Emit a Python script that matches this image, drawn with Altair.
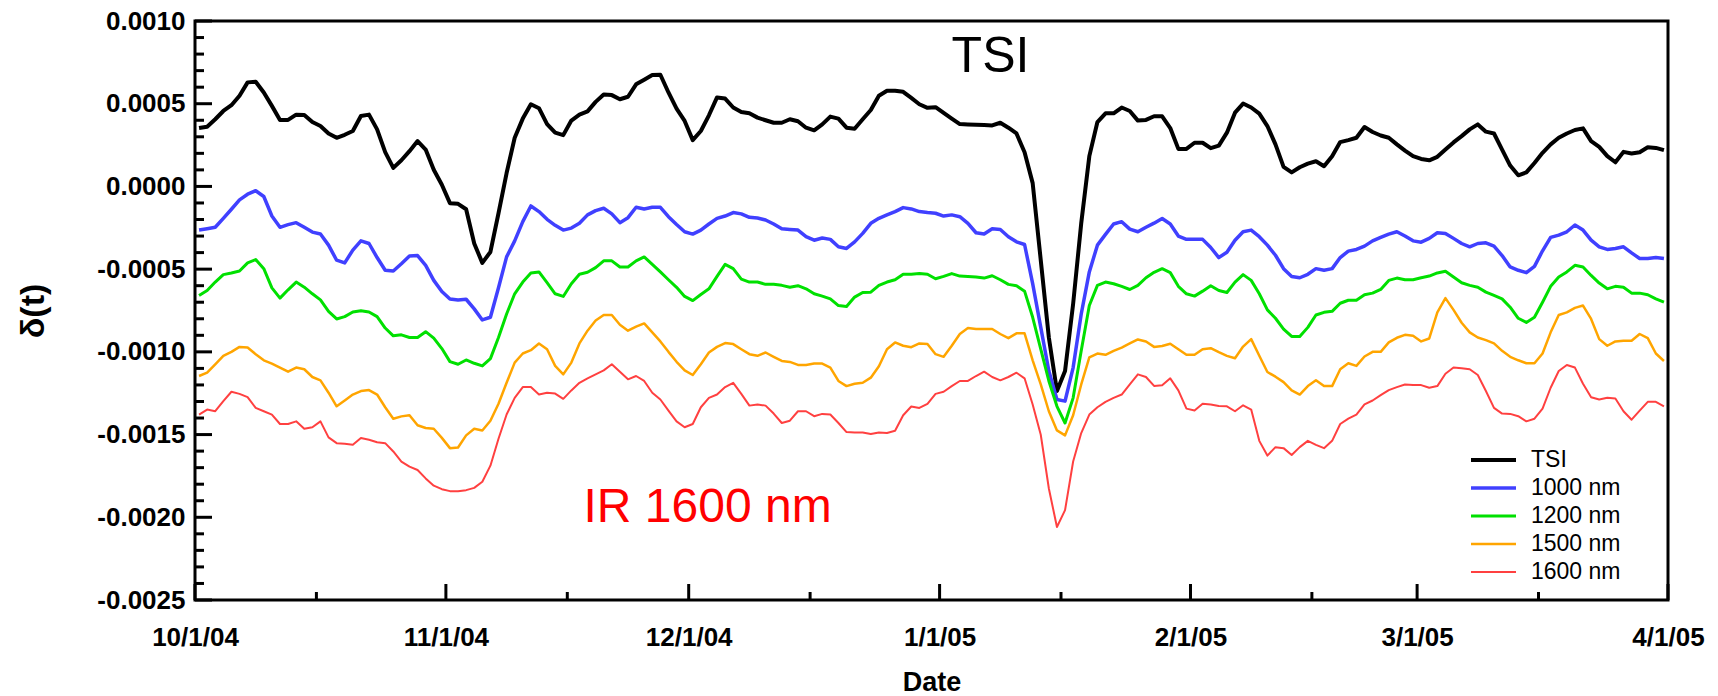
import altair as alt
import pandas as pd

# ---- series values, in units of 1e-4 (daily, Oct 1 2004 .. Mar 31 2005) ----
tsi = [
    3.53, 3.61, 4.06, 4.56, 4.91, 5.48, 6.29, 6.33, 5.68, 4.87,
    4.02, 4.02, 4.34, 4.32, 3.89, 3.65, 3.20, 2.94, 3.12, 3.35,
    4.26, 4.34, 3.45, 2.07, 1.12, 1.58, 2.13, 2.74, 2.23, 1.01,
    0.10, -1.01, -1.05, -1.38, -3.45, -4.62, -3.96, -1.62, 0.81, 2.94,
    4.10, 4.97, 4.73, 3.77, 3.25, 3.10, 3.98, 4.34, 4.54, 5.11,
    5.56, 5.52, 5.27, 5.42, 6.17, 6.45, 6.73, 6.75, 5.68, 4.70,
    3.96, 2.80, 3.35, 4.30, 5.38, 5.31, 4.77, 4.50, 4.42, 4.16,
    4.00, 3.85, 3.85, 4.06, 3.94, 3.55, 3.39, 3.75, 4.22, 4.10,
    3.55, 3.49, 4.06, 4.62, 5.48, 5.78, 5.78, 5.72, 5.35, 4.97,
    4.75, 4.79, 4.44, 4.10, 3.77, 3.75, 3.73, 3.71, 3.69, 3.85,
    3.55, 3.20, 2.07, 0.20, -4.46, -9.13, -12.37, -11.16, -7.10, -2.23,
    1.83, 3.89, 4.42, 4.42, 4.77, 4.56, 3.98, 4.02, 4.24, 4.24,
    3.53, 2.27, 2.27, 2.64, 2.64, 2.31, 2.47, 3.25, 4.46, 5.01,
    4.77, 4.40, 3.65, 2.54, 1.18, 0.85, 1.16, 1.38, 1.52, 1.22,
    1.83, 2.68, 2.80, 2.94, 3.59, 3.29, 3.08, 2.94, 2.54, 2.17,
    1.83, 1.66, 1.58, 1.79, 2.23, 2.66, 3.04, 3.45, 3.75, 3.31,
    3.20, 2.23, 1.26, 0.67, 0.85, 1.42, 2.03, 2.54, 2.94, 3.20,
    3.41, 3.51, 2.74, 2.39, 1.83, 1.46, 2.09, 1.99, 2.07, 2.37,
    2.33, 2.19,
]
nm1000 = [
    -2.64, -2.56, -2.47, -1.93, -1.38, -0.81, -0.47, -0.26, -0.61, -1.79,
    -2.47, -2.31, -2.19, -2.47, -2.76, -2.88, -3.55, -4.46, -4.62, -3.85,
    -3.29, -3.45, -4.30, -5.07, -5.11, -4.67, -4.20, -4.18, -4.77, -5.68,
    -6.35, -6.80, -6.86, -6.82, -7.40, -8.07, -7.91, -6.13, -4.26, -3.29,
    -2.13, -1.18, -1.52, -1.99, -2.35, -2.64, -2.52, -2.23, -1.72, -1.46,
    -1.32, -1.66, -2.19, -1.89, -1.26, -1.36, -1.26, -1.26, -1.83, -2.30,
    -2.74, -2.88, -2.64, -2.27, -1.93, -1.79, -1.58, -1.66, -1.87, -1.91,
    -2.03, -2.27, -2.56, -2.60, -2.64, -3.04, -3.25, -3.12, -3.20, -3.65,
    -3.75, -3.35, -2.84, -2.23, -1.93, -1.72, -1.52, -1.28, -1.36, -1.52,
    -1.58, -1.62, -1.79, -1.72, -1.83, -2.23, -2.80, -2.88, -2.56, -2.60,
    -3.04, -3.35, -3.51, -5.88, -8.52, -11.16, -12.88, -12.98, -10.95, -7.71,
    -5.17, -3.55, -2.90, -2.27, -2.13, -2.58, -2.74, -2.47, -2.22, -1.94,
    -2.27, -3.00, -3.20, -3.20, -3.20, -3.69, -4.30, -3.98, -3.25, -2.74,
    -2.64, -3.04, -3.55, -4.16, -4.97, -5.44, -5.52, -5.31, -4.97, -5.07,
    -4.97, -4.30, -3.91, -3.81, -3.61, -3.29, -3.08, -2.88, -2.74, -3.00,
    -3.29, -3.37, -3.14, -2.80, -2.84, -3.14, -3.45, -3.65, -3.45, -3.41,
    -3.61, -4.18, -4.87, -5.07, -5.21, -4.83, -3.89, -3.08, -2.94, -2.74,
    -2.33, -2.64, -3.25, -3.65, -3.81, -3.75, -3.65, -4.02, -4.36, -4.36,
    -4.30, -4.36,
]
nm1200 = [
    -6.59, -6.29, -5.78, -5.33, -5.23, -5.11, -4.62, -4.42, -4.97, -6.13,
    -6.75, -6.25, -5.78, -6.09, -6.49, -6.86, -7.55, -8.01, -7.87, -7.59,
    -7.51, -7.59, -7.87, -8.56, -9.03, -8.97, -9.13, -9.13, -8.78, -9.17,
    -9.80, -10.59, -10.75, -10.49, -10.69, -10.85, -10.41, -9.13, -7.71, -6.49,
    -5.78, -5.23, -5.17, -5.82, -6.49, -6.65, -5.88, -5.31, -5.19, -4.91,
    -4.50, -4.50, -4.87, -4.87, -4.50, -4.26, -4.71, -5.17, -5.64, -6.10,
    -6.65, -6.90, -6.53, -6.19, -5.44, -4.71, -4.97, -5.60, -5.78, -5.78,
    -5.92, -5.92, -5.98, -6.09, -6.00, -6.19, -6.49, -6.63, -6.80, -7.20,
    -7.26, -6.69, -6.41, -6.39, -5.98, -5.78, -5.64, -5.31, -5.31, -5.27,
    -5.31, -5.58, -5.44, -5.27, -5.42, -5.44, -5.48, -5.54, -5.40, -5.64,
    -5.92, -6.00, -6.33, -7.91, -9.84, -11.76, -13.29, -14.30, -12.78, -9.94,
    -7.20, -5.98, -5.78, -5.88, -6.04, -6.23, -5.98, -5.52, -5.19, -4.97,
    -5.21, -6.04, -6.49, -6.63, -6.33, -6.00, -6.29, -6.41, -5.78, -5.33,
    -5.68, -6.49, -7.46, -7.97, -8.62, -9.07, -9.07, -8.52, -7.77, -7.61,
    -7.55, -7.06, -6.88, -6.88, -6.55, -6.45, -6.23, -5.68, -5.54, -5.64,
    -5.64, -5.52, -5.42, -5.23, -5.13, -5.48, -5.82, -5.98, -6.09, -6.39,
    -6.59, -6.80, -7.30, -7.97, -8.22, -7.91, -7.00, -6.04, -5.48, -5.17,
    -4.77, -4.87, -5.38, -5.84, -6.19, -6.04, -6.09, -6.45, -6.45, -6.55,
    -6.80, -7.00,
]
nm1500 = [
    -11.46, -11.26, -10.75, -10.24, -10.00, -9.70, -9.74, -10.14, -10.51, -10.71,
    -10.95, -11.20, -10.95, -11.05, -11.52, -11.72, -12.47, -13.29, -12.94, -12.58,
    -12.37, -12.31, -12.58, -13.35, -14.04, -13.90, -13.83, -14.44, -14.60, -14.65,
    -15.20, -15.82, -15.78, -15.05, -14.65, -14.75, -14.16, -13.14, -11.87, -10.65,
    -10.10, -9.90, -9.49, -9.84, -10.85, -11.36, -10.65, -9.49, -8.72, -8.11,
    -7.77, -7.77, -8.36, -8.72, -8.48, -8.28, -8.82, -9.37, -10.00, -10.60,
    -11.12, -11.40, -10.75, -10.04, -9.70, -9.47, -9.53, -9.84, -10.14, -10.24,
    -10.04, -10.30, -10.55, -10.61, -10.79, -10.79, -10.71, -10.71, -10.95, -11.76,
    -12.07, -11.93, -11.87, -11.56, -10.87, -9.84, -9.43, -9.63, -9.72, -9.49,
    -9.53, -10.14, -10.30, -9.63, -8.92, -8.56, -8.62, -8.62, -8.62, -8.92,
    -9.17, -8.88, -8.88, -10.51, -11.97, -13.59, -14.75, -15.05, -13.83, -11.97,
    -10.34, -10.10, -10.18, -9.94, -9.74, -9.49, -9.25, -9.37, -9.70, -9.65,
    -9.51, -9.84, -10.18, -10.18, -9.84, -9.78, -10.02, -10.24, -10.39, -9.68,
    -9.23, -10.24, -11.22, -11.50, -11.83, -12.33, -12.58, -12.07, -11.72, -12.07,
    -12.07, -11.05, -10.69, -10.85, -10.28, -10.00, -10.00, -9.43, -9.15, -8.97,
    -9.03, -9.37, -9.19, -7.61, -6.75, -7.46, -8.24, -8.82, -9.13, -9.29,
    -9.49, -9.94, -10.30, -10.51, -10.69, -10.69, -10.10, -8.82, -7.77, -7.61,
    -7.34, -7.20, -8.01, -9.23, -9.63, -9.37, -9.33, -9.33, -8.92, -9.17,
    -10.10, -10.55,
]
nm1600 = [
    -13.79, -13.49, -13.59, -12.98, -12.41, -12.54, -12.74, -13.39, -13.59, -13.79,
    -14.36, -14.36, -14.20, -14.65, -14.56, -14.20, -15.17, -15.52, -15.56, -15.62,
    -15.21, -15.31, -15.46, -15.52, -16.02, -16.63, -16.94, -17.14, -17.65, -18.09,
    -18.30, -18.42, -18.42, -18.36, -18.22, -17.85, -16.88, -15.25, -13.79, -12.78,
    -12.13, -12.13, -12.58, -12.47, -12.52, -12.84, -12.33, -11.87, -11.60, -11.36,
    -11.12, -10.75, -11.20, -11.66, -11.46, -11.76, -12.47, -12.88, -13.55, -14.20,
    -14.56, -14.36, -13.35, -12.78, -12.58, -12.13, -11.87, -12.54, -13.25, -13.18,
    -13.25, -13.73, -14.30, -14.16, -13.59, -13.59, -13.89, -13.75, -13.79, -14.30,
    -14.85, -14.87, -14.87, -14.97, -14.87, -14.91, -14.77, -13.83, -13.30, -13.39,
    -13.14, -12.54, -12.41, -12.07, -11.76, -11.76, -11.46, -11.20, -11.52, -11.72,
    -11.52, -11.26, -11.60, -13.18, -15.01, -18.26, -20.59, -19.57, -16.63, -14.91,
    -13.79, -13.35, -13.02, -12.78, -12.58, -11.97, -11.36, -11.52, -12.06, -12.02,
    -11.60, -12.33, -13.43, -13.55, -13.14, -13.18, -13.27, -13.29, -13.59, -13.23,
    -13.49, -15.38, -16.27, -15.76, -15.82, -16.23, -15.76, -15.38, -15.62, -15.82,
    -15.38, -14.36, -14.04, -13.79, -13.18, -12.94, -12.62, -12.31, -12.13, -11.97,
    -12.01, -12.01, -12.17, -12.07, -11.32, -10.95, -10.99, -11.05, -11.40, -12.37,
    -13.39, -13.73, -13.75, -13.89, -14.20, -14.04, -13.43, -12.17, -11.16, -10.79,
    -10.95, -11.93, -12.74, -12.88, -12.78, -12.82, -13.59, -14.10, -13.55, -13.02,
    -13.02, -13.29,
]

series_names = ["TSI", "1000 nm", "1200 nm", "1500 nm", "1600 nm"]
series_colors = ["#000000", "#4040ff", "#00e000", "#ffa500", "#ff4040"]
series_widths = [4, 2, 2, 2, 2]
all_series = [tsi, nm1000, nm1200, nm1500, nm1600]

dates = pd.date_range("2004-10-01 12:00", periods=182, freq="D")

month_starts = ["2004-10-01T00:00:00", "2004-11-01T00:00:00", "2004-12-01T00:00:00",
                "2005-01-01T00:00:00", "2005-02-01T00:00:00", "2005-03-01T00:00:00",
                "2005-04-01T00:00:00"]
mid_months = ["2004-10-16T00:00:00", "2004-11-16T00:00:00", "2004-12-16T00:00:00",
              "2005-01-16T00:00:00", "2005-02-16T00:00:00", "2005-03-16T00:00:00"]
y_major = [-0.0025, -0.0020, -0.0015, -0.0010, -0.0005, 0.0, 0.0005, 0.0010]
y_minor = [round(-0.0025 + i * 0.0001, 4) for i in range(36) if i % 5 != 0]

note_text = ["TSI", "IR 1600 nm"]
note_date = ["2005-01-07T07:00:00", "2004-11-18T00:00:00"]
note_value = [0.000692, -0.002029]

# ---- tables ----
rows = []
for name, vals in zip(series_names, all_series):
    for d, v in zip(dates, vals):
        rows.append({"date": d, "value": v * 1e-4, "series": name})
df = pd.DataFrame(rows)

FONT = "Liberation Sans"
W, H = 1473, 579

x_scale = alt.Scale(domain=[alt.DateTime(year=2004, month=10, date=1),
                            alt.DateTime(year=2005, month=4, date=1)])
y_scale = alt.Scale(domain=[-0.0025, 0.0010], nice=False, zero=False)

x_axis = alt.Axis(
    values=[alt.DateTime(year=2004, month=10, date=1), alt.DateTime(year=2004, month=11, date=1),
            alt.DateTime(year=2004, month=12, date=1), alt.DateTime(year=2005, month=1, date=1),
            alt.DateTime(year=2005, month=2, date=1), alt.DateTime(year=2005, month=3, date=1),
            alt.DateTime(year=2005, month=4, date=1)],
    format="%-m/%-d/%y", title="Date", ticks=False, tickSize=0, domain=False, grid=False,
    labelFont=FONT, labelFontSize=26, labelFontWeight="bold", labelColor="black",
    labelBaseline="alphabetic", labelPadding=45, labelOverlap=False, labelFlush=False,
    labelBound=False,
    titleFont=FONT, titleFontSize=27, titleFontWeight="bold", titleColor="black",
    titleBaseline="alphabetic", titleY=90,
)
y_axis = alt.Axis(
    values=y_major, title="δ(t)", ticks=False, tickSize=0, domain=False, grid=False,
    labelExpr="replace(format(datum.value, '.4f'), '\u2212', '-')",
    labelFont=FONT, labelFontSize=26, labelFontWeight="bold", labelColor="black",
    labelPadding=10, labelOverlap=False, labelFlush=False, labelBound=False,
    titleFont=FONT, titleFontSize=34, titleFontWeight="bold", titleColor="black",
    titleAngle=270, titleAlign="center", titleBaseline="middle", titleX=-162, titleY=H / 2,
)

legend_kw = dict(
    orient="none", legendX=1274, legendY=425, title=None, symbolType="stroke",
    symbolSize=2025, labelFont=FONT, labelFontSize=23, labelOffset=13, labelColor="black",
    clipHeight=28, rowPadding=0, padding=0,
)

lines = alt.Chart(df).mark_line(strokeJoin="round").encode(
    x=alt.X("date:T", scale=x_scale, axis=x_axis),
    y=alt.Y("value:Q", scale=y_scale, axis=y_axis),
    color=alt.Color("series:N", scale=alt.Scale(domain=series_names, range=series_colors),
                    legend=alt.Legend(**legend_kw)),
    strokeWidth=alt.StrokeWidth("series:N", scale=alt.Scale(domain=series_names, range=series_widths),
                                legend=alt.Legend(**legend_kw)),
)

yt_major = alt.Chart(pd.DataFrame({"value": y_major})).mark_rule(color="black", strokeWidth=3).encode(
    y=alt.Y("value:Q", scale=y_scale, axis=y_axis), x=alt.value(0), x2=alt.value(17))
yt_minor = alt.Chart(pd.DataFrame({"value": y_minor})).mark_rule(color="black", strokeWidth=3).encode(
    y=alt.Y("value:Q", scale=y_scale, axis=y_axis), x=alt.value(0), x2=alt.value(9))
xt_major = alt.Chart(pd.DataFrame({"date": month_starts})).mark_rule(color="black", strokeWidth=3).encode(
    x=alt.X("date:T", scale=x_scale, axis=x_axis), y=alt.value(H), y2=alt.value(H - 16))
xt_minor = alt.Chart(pd.DataFrame({"date": mid_months})).mark_rule(color="black", strokeWidth=3).encode(
    x=alt.X("date:T", scale=x_scale, axis=x_axis), y=alt.value(H), y2=alt.value(H - 8))

notes = pd.DataFrame({"date": note_date, "value": note_value, "t": note_text})
tsi_note = alt.Chart(notes.iloc[[0]]).mark_text(
    font=FONT, fontSize=50, align="center", baseline="alphabetic", color="black").encode(
    x=alt.X("date:T", scale=x_scale, axis=x_axis), y=alt.Y("value:Q", scale=y_scale, axis=y_axis),
    text="t:N")
ir_note = alt.Chart(notes.iloc[[1]]).mark_text(
    font=FONT, fontSize=48, align="left", baseline="alphabetic", color="#ff0000").encode(
    x=alt.X("date:T", scale=x_scale, axis=x_axis), y=alt.Y("value:Q", scale=y_scale, axis=y_axis),
    text="t:N")

chart = alt.layer(yt_major, yt_minor, xt_major, xt_minor, lines, tsi_note, ir_note).properties(
    width=W, height=H,
    autosize=alt.AutoSizeParams(type="none"),
    padding={"left": 187, "top": 13, "right": 40, "bottom": 96},
    background="white",
).configure_view(stroke="black", strokeWidth=3)

chart.save("out.html", embed_options={"renderer": "svg", "actions": False})
